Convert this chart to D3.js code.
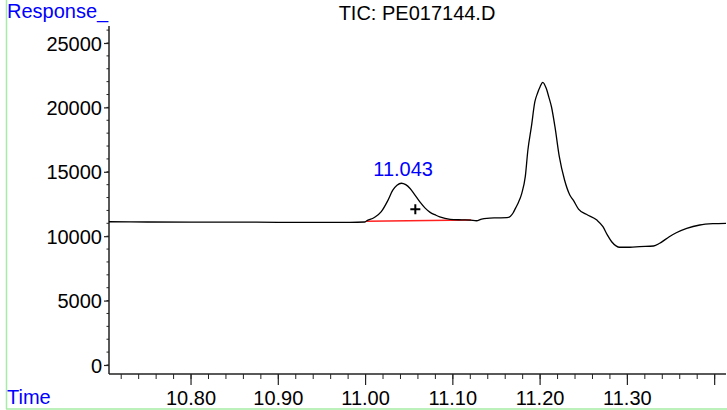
<!DOCTYPE html>
<html><head><meta charset="utf-8">
<script src="https://cdn.jsdelivr.net/npm/d3@7"></script>
<style>
html,body{margin:0;padding:0;background:#fff;}
svg{display:block;font-family:"Liberation Sans",Arial,sans-serif;}
</style></head>
<body>
<svg id="chart" width="727" height="410"></svg>
<script>
// ---- data ----
const title = "TIC: PE017144.D";
const yLabel = "Response_";
const xLabel = "Time";
const times = [10.706,10.75,10.80,10.85,10.90,10.95,10.982,10.999,11.001,11.010,11.018,11.025,11.031,11.036,11.041,11.046,11.051,11.056,11.062,11.068,11.074,11.080,11.085,11.097,11.110,11.120,11.127,11.133,11.139,11.150,11.162,11.166,11.169,11.172,11.175,11.179,11.183,11.186,11.190,11.194,11.197,11.200,11.203,11.207,11.210,11.213,11.217,11.222,11.228,11.234,11.238,11.244,11.253,11.265,11.272,11.277,11.282,11.287,11.291,11.303,11.314,11.330,11.337,11.348,11.356,11.368,11.383,11.398,11.413];
const responses = [11120,11100,11090,11090,11080,11080,11080,11100,11180,11450,11900,12700,13550,13950,14110,14000,13700,13250,12680,12200,11850,11650,11500,11310,11270,11250,11200,11330,11390,11420,11440,11550,11800,12200,12600,13330,14620,16690,18500,20440,21100,21600,21950,21480,20800,20050,18500,16170,14360,13200,12800,12100,11700,11250,10740,10100,9570,9250,9140,9140,9190,9240,9450,9960,10270,10610,10870,10970,11000];
const baselineTimes = [11.001, 11.121];
const baselineValues = [11160, 11250];
const peakLabel = "11.043";
const peakTime = 11.043;
const peakValue = 14110;
const markerTime = 11.057;
const markerValue = 12090;
const yTicks = [0,5000,10000,15000,20000,25000];
const xTickLabels = ["10.80","10.90","11.00","11.10","11.20","11.30"];

// ---- layout ----
const svg = d3.select("#chart");
const x = d3.scaleLinear().domain([10.706, 11.413]).range([109, 726]);
const y = d3.scaleLinear().domain([-700, 26320]).range([374, 26]);

// border (left & bottom)
svg.append("line").attr("x1",6.5).attr("x2",6.5).attr("y1",0).attr("y2",409)
  .attr("stroke","#a6eca6").attr("stroke-width",1.5);
svg.append("line").attr("x1",6).attr("x2",727).attr("y1",409).attr("y2",409)
  .attr("stroke","#a6eca6").attr("stroke-width",1.5);

// Y axis
const yMinor = d3.range(0, 26001, 1000);
const gy = svg.append("g").attr("transform","translate(109,0)");
gy.append("line").attr("x1",0).attr("x2",0).attr("y1",26).attr("y2",374)
  .attr("stroke","#222").attr("stroke-width",1.5);
gy.selectAll("line.minor").data(yMinor).join("line").attr("class","minor")
  .attr("x1",-2.5).attr("x2",0).attr("y1",d=>y(d)).attr("y2",d=>y(d))
  .attr("stroke","#222").attr("stroke-width",1);
const yAxis = d3.axisLeft(y).tickValues(yTicks).tickSize(5).tickPadding(2).tickFormat(d3.format("d"));
const gya = gy.append("g").call(yAxis);
gya.select(".domain").remove();
gya.selectAll("text").attr("font-size",20).attr("fill","#000")
  .attr("font-family","'Liberation Sans',Arial,sans-serif").attr("dy","0.36em");
gya.selectAll(".tick line").attr("stroke","#222").attr("stroke-width",1.2);

// X axis
const gx = svg.append("g").attr("transform","translate(0,374)");
gx.append("line").attr("x1",109).attr("x2",726).attr("y1",0).attr("y2",0)
  .attr("stroke","#222").attr("stroke-width",1.5);
const xMinor = d3.range(0, 35).map(i => +(10.72 + i*0.02).toFixed(2)).filter(t => t <= 11.413);
gx.selectAll("line.minor").data(xMinor).join("line").attr("class","minor")
  .attr("x1",d=>x(d)).attr("x2",d=>x(d)).attr("y1",0).attr("y2",5)
  .attr("stroke","#222").attr("stroke-width",1);
const xMajor = [10.8,10.9,11.0,11.1,11.2,11.3,11.4];
gx.selectAll("line.major").data(xMajor).join("line").attr("class","major")
  .attr("x1",d=>x(d)).attr("x2",d=>x(d)).attr("y1",0).attr("y2",11)
  .attr("stroke","#222").attr("stroke-width",1.2);
gx.selectAll("text.xl").data(xTickLabels).join("text").attr("class","xl")
  .attr("x",d=>x(+d)).attr("y",31).attr("text-anchor","middle")
  .attr("font-size",20).attr("fill","#000").text(d=>d);

// titles
svg.append("text").attr("x",417).attr("y",20).attr("text-anchor","middle")
  .attr("font-size",20).attr("fill","#000").text(title);
svg.append("text").attr("x",7).attr("y",18).attr("font-size",20).attr("fill","#0000ff").text(yLabel);
svg.append("text").attr("x",7).attr("y",404).attr("font-size",20).attr("fill","#0000ff").text(xLabel);

// baseline (red)
svg.append("path").datum(baselineTimes.map((t,i)=>[t,baselineValues[i]]))
  .attr("d", d3.line().x(d=>x(d[0])).y(d=>y(d[1])))
  .attr("fill","none").attr("stroke","#ff2020").attr("stroke-width",1.5);

// signal
svg.append("path").datum(times.map((t,i)=>[t,responses[i]]))
  .attr("d", d3.line().x(d=>x(d[0])).y(d=>y(d[1])).curve(d3.curveMonotoneX))
  .attr("fill","none").attr("stroke","#000").attr("stroke-width",1.3);

// peak label
svg.append("text").attr("x",x(peakTime)).attr("y",y(peakValue)-7).attr("text-anchor","middle")
  .attr("font-size",20).attr("fill","#0000ff").text(peakLabel);

// marker
const mx = x(markerTime), my = y(markerValue);
svg.append("path").attr("d",`M${mx-5},${my}H${mx+5}M${mx},${my-5}V${my+5}`)
  .attr("stroke","#000").attr("stroke-width",2).attr("fill","none");
</script>
</body></html>
